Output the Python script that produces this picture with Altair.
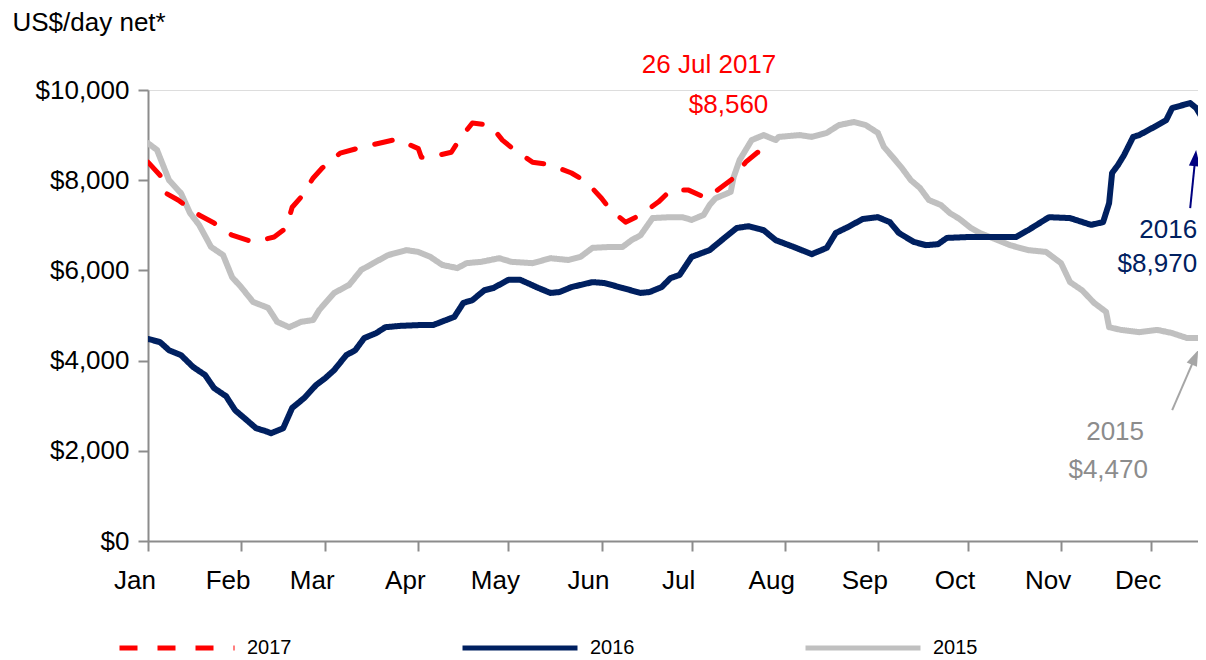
import altair as alt
import pandas as pd

FONT = "Liberation Sans"

series_names = ["2017", "2016", "2015"]
series_colors = ["#FF0000", "#002060", "#C0C0C0"]
series_dash = [[18, 20], [1, 0], [1, 0]]

month_labels = ["Jan", "Feb", "Mar", "Apr", "May", "Jun", "Jul", "Aug", "Sep", "Oct", "Nov", "Dec"]
month_starts = [0, 31, 59, 90, 120, 151, 181, 212, 243, 273, 304, 334]
y_ticks = [0, 2000, 4000, 6000, 8000, 10000]

days_2017 = [0, 4, 6, 10, 17, 22, 28, 35, 42, 46, 48, 51, 55, 58, 64, 70, 77, 83, 90, 91, 94,
             101, 104, 108, 114, 118, 122, 128, 134, 141, 146, 151, 154, 159, 164, 170, 174,
             180, 186, 195, 199, 203, 206]
vals_2017 = [8400, 8110, 7710, 7560, 7230, 7050, 6780, 6630, 6740, 6940, 7400, 7630, 8050, 8270,
             8600, 8710, 8820, 8910, 8700, 8510, 8510, 8620, 8930, 9270, 9220, 8890, 8670, 8400,
             8340, 8160, 7960, 7600, 7340, 7070, 7230, 7520, 7780, 7780, 7600, 8050, 8400, 8620,
             8560]

days_2016 = [0, 4, 7, 11, 15, 19, 22, 26, 29, 32, 36, 39, 41, 45, 48, 52, 56, 59, 62, 66, 69, 72,
             76, 79, 84, 91, 95, 102, 105, 108, 112, 115, 120, 124, 130, 134, 137, 141, 148, 152,
             158, 164, 167, 171, 174, 177, 181, 187, 191, 196, 200, 205, 209, 215, 221, 226, 229,
             233, 238, 243, 247, 250, 255, 259, 263, 266, 273, 280, 289, 293, 300, 307, 314, 318,
             320, 321, 323, 325, 328, 330, 335, 339, 341, 347, 349, 352, 358, 365]
vals_2016 = [4480, 4410, 4230, 4120, 3860, 3680, 3390, 3210, 2900, 2730, 2500, 2440, 2390, 2500,
             2950, 3170, 3460, 3610, 3790, 4120, 4230, 4500, 4610, 4740, 4770, 4790, 4790, 4970,
             5280, 5340, 5560, 5610, 5790, 5790, 5610, 5500, 5520, 5630, 5740, 5720, 5610, 5500,
             5520, 5630, 5830, 5900, 6300, 6450, 6670, 6940, 6980, 6890, 6670, 6520, 6360, 6500,
             6830, 6960, 7140, 7180, 7070, 6830, 6630, 6560, 6580, 6720, 6740, 6740, 6740, 6890,
             7180, 7160, 7010, 7070, 7490, 8160, 8340, 8560, 8960, 9000, 9180, 9330, 9600, 9710,
             9600, 9270, 9100, 8970]

days_2015 = [0, 3, 7, 11, 14, 17, 21, 25, 28, 31, 35, 40, 43, 47, 51, 55, 57, 62, 67, 71, 75, 80,
             86, 90, 94, 98, 103, 106, 111, 117, 121, 128, 134, 140, 144, 148, 154, 158, 161, 164,
             168, 174, 178, 181, 185, 187, 189, 194, 195, 197, 201, 205, 209, 210, 217, 221, 226,
             230, 235, 239, 243, 245, 248, 251, 254, 257, 260, 264, 267, 270, 274, 277, 287, 293,
             299, 304, 307, 311, 315, 319, 320, 324, 330, 336, 341, 346, 352, 358, 365]
vals_2015 = [8820, 8670, 8000, 7710, 7270, 7010, 6520, 6340, 5850, 5630, 5300, 5170, 4860, 4740,
             4860, 4900, 5120, 5500, 5680, 6010, 6160, 6340, 6450, 6410, 6300, 6120, 6050, 6160,
             6190, 6270, 6190, 6160, 6270, 6230, 6300, 6500, 6520, 6520, 6670, 6780, 7160, 7180,
             7180, 7120, 7230, 7450, 7600, 7740, 8070, 8450, 8890, 9000, 8890, 8960, 9000, 8960,
             9050, 9220, 9290, 9220, 9050, 8740, 8510, 8270, 8000, 7830, 7560, 7450, 7270, 7150,
             6940, 6830, 6560, 6450, 6410, 6160, 5740, 5560, 5280, 5080, 4740, 4680, 4630, 4680,
             4610, 4500, 4500, 4480, 4470]

# annotations (positions in data units: day of year, US$/day)
note_text = ["26 Jul 2017", "$8,560", "2016", "$8,970", "2015", "$4,470"]
note_day = [186.8, 193.3, 349.3, 349.3, 322.0, 319.7]
note_value = [10377, 9489, 6717, 5964, 2239, 1397]
note_align = ["center", "center", "right", "right", "center", "center"]
note_color = ["#FF0000", "#FF0000", "#002060", "#002060", "#8C8C8C", "#8C8C8C"]

arrow_day = [347.0, 341.0]
arrow_value = [7383, 2904]
arrow_head_day = [348.7, 348.6]
arrow_head_value = [8491, 4073]
arrow_angle = [5.9, 23.4]
arrow_color = ["#000080", "#A6A6A6"]

rows = []
for name, days, vals in [("2015", days_2015, vals_2015),
                         ("2016", days_2016, vals_2016),
                         ("2017", days_2017, vals_2017)]:
    for d, v in zip(days, vals):
        rows.append({"series": name, "day": d, "value": v})
df = pd.DataFrame(rows)

label_expr = "{}[indexof({}, datum.value)]".format(
    "[" + ",".join("'%s'" % m for m in month_labels) + "]",
    "[" + ",".join(str(d) for d in month_starts) + "]")

x_enc = alt.X("day:Q",
              scale=alt.Scale(domain=[0, 349.6], nice=False, zero=False),
              axis=alt.Axis(values=month_starts, labelExpr=label_expr, title=None, grid=False,
                            tickSize=10, tickWidth=2, domainWidth=2,
                            tickColor="#8C8C8C", domainColor="#8C8C8C",
                            labelFontSize=26, labelFont=FONT, labelColor="#000000",
                            labelPadding=16, labelOffset=-13.5, labelBaseline="top",
                            labelFlush=False, labelOverlap=False))
y_enc = alt.Y("value:Q",
              scale=alt.Scale(domain=[0, 10000], nice=False),
              axis=alt.Axis(values=y_ticks, format="$,.0f", grid=False,
                            tickSize=10, tickWidth=2, domainWidth=2,
                            tickColor="#8C8C8C", domainColor="#8C8C8C",
                            labelFontSize=26, labelFont=FONT, labelColor="#000000",
                            labelPadding=9,
                            title="US$/day net*", titleAngle=0, titleX=-136, titleY=-60,
                            titleAlign="left", titleBaseline="alphabetic", titleFontSize=26,
                            titleFontWeight="normal", titleFont=FONT, titleColor="#000000"))

legend = alt.Legend(title=None, orient="none", legendX=-31, legendY=498, direction="horizontal",
                    symbolType="stroke", symbolSize=13225, symbolStrokeWidth=5,
                    labelFontSize=20, labelFont=FONT, labelColor="#000000",
                    labelOffset=10, columnPadding=160)
color_enc = alt.Color("series:N", scale=alt.Scale(domain=series_names, range=series_colors),
                      legend=legend)
dash_enc = alt.StrokeDash("series:N", scale=alt.Scale(domain=series_names, range=series_dash),
                          legend=legend)

base = alt.Chart(df).encode(x=x_enc, y=y_enc, color=color_enc, strokeDash=dash_enc)
layers = []
for name, width in [("2015", 6), ("2016", 6), ("2017", 5)]:
    layers.append(base.transform_filter(alt.datum.series == name)
                  .mark_line(strokeWidth=width, clip=True, strokeCap="round", strokeJoin="round"))

for i in range(len(arrow_day)):
    adf = pd.DataFrame([{"d1": arrow_day[i], "v1": arrow_value[i],
                         "d2": arrow_head_day[i], "v2": arrow_head_value[i]}])
    layers.append(alt.Chart(adf).mark_rule(color=arrow_color[i], strokeWidth=2).encode(
        x="d1:Q", y="v1:Q", x2="d2:Q", y2="v2:Q"))
    layers.append(alt.Chart(adf).mark_point(shape="M0,-1L-0.7,1L0.7,1Z", filled=True, size=256,
                                            opacity=1, color=arrow_color[i],
                                            angle=arrow_angle[i]).encode(
        x="d2:Q", y="v2:Q"))

for i in range(len(note_text)):
    ndf = pd.DataFrame([{"t": note_text[i], "d": note_day[i], "v": note_value[i]}])
    layers.append(alt.Chart(ndf).mark_text(align=note_align[i], baseline="alphabetic",
                                           fontSize=26, font=FONT, color=note_color[i]).encode(
        x="d:Q", y="v:Q", text="t:N"))

chart = alt.layer(*layers).properties(
    width=1050, height=451,
    padding={"left": 140, "top": 82, "right": 0, "bottom": 119},
    autosize=alt.AutoSizeParams(type="none"),
).configure_view(stroke=None).configure(font=FONT)

chart.save("out.html", embed_options={"renderer": "svg", "actions": False})
